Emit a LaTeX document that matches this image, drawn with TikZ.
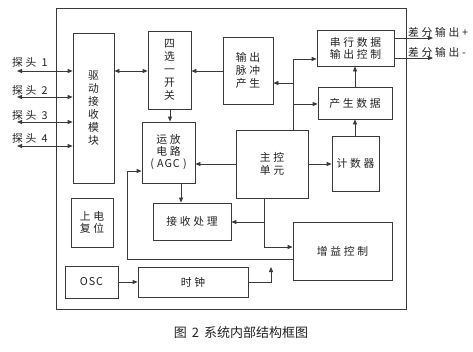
\documentclass[tikz,border=0pt]{standalone}
\usepackage{fontspec}
\setmainfont{Noto Sans CJK SC}
\newfontfamily\cjk{Noto Sans CJK SC}[LetterSpace=25]
\newfontfamily\cjkcap{Noto Sans CJK SC}
\newfontfamily\latn{Noto Sans CJK SC}[LetterSpace=8]
\usetikzlibrary{arrows.meta}
\definecolor{linec}{HTML}{3A3A3A}
\definecolor{textc}{HTML}{222222}
\newcommand\lbl{\cjk\fontsize{10.8}{13}\selectfont}
\tikzset{
  box/.style={draw=linec, line width=0.8pt, inner sep=0pt, align=center, font=\lbl, text=textc},
  conn/.style={draw=linec, line width=0.8pt},
  arr/.style={conn, -{Triangle[length=5pt,width=4pt]}},
  arrboth/.style={conn, {Triangle[length=5pt,width=4pt]}-{Triangle[length=5pt,width=4pt]}},
  plain/.style={inner sep=0pt, font=\lbl, text=textc},
}
\begin{document}
\begin{tikzpicture}[x=1pt,y=-1pt]
\useasboundingbox[fill=white] (0,0) rectangle (473,351);
% frame
\node[box, minimum width=350pt, minimum height=301pt] (frame) at (231,158.5) {};
% blocks
\node[box, minimum width=41pt, minimum height=150pt] (drive) at (93.5,108) {驱\\动\\接\\收\\模\\块};
\node[box, minimum width=43pt, minimum height=78pt] (sel) at (169.5,70) {四\\选\\一\\开\\关};
\node[box, minimum width=50pt, minimum height=67pt] (pulse) at (248,70.5) {输出\\脉冲\\产生};
\node[box, minimum width=77pt, minimum height=36pt, font=\cjk\fontsize{10.8}{12}\selectfont] (serial) at (355.5,48) {串行数据\\输出控制};
\node[box, minimum width=74pt, minimum height=32pt] (gen) at (355,103) {产生数据};
\node[box, minimum width=47pt, minimum height=55pt] (cnt) at (355.5,163.5) {计数器};
\node[box, minimum width=72pt, minimum height=68pt] (main) at (272,164) {主控\\单元};
\node[box, minimum width=53pt, minimum height=61pt, font=\cjk\fontsize{10.8}{12}\selectfont] (agc) at (168.5,152.5) {运放\\电路\\{\latn ( AGC )}};
\node[box, minimum width=78pt, minimum height=37pt] (recv) at (192,221.5) {接收处理};
\node[box, minimum width=99pt, minimum height=58pt] (gain) at (342.5,251) {增益控制};
\node[box, minimum width=42pt, minimum height=49pt, font=\cjk\fontsize{10.8}{12}\selectfont] (reset) at (92,222.5) {上电\\复位};
\node[box, minimum width=53pt, minimum height=32pt] (osc) at (91.5,282) {\latn OSC};
\node[box, minimum width=110pt, minimum height=30pt] (clk) at (193,282) {时钟};
% probe labels
\node[plain, anchor=west] (l1) at (12,62) {探头 1};
\node[plain, anchor=west] (l2) at (12,90) {探头 2};
\node[plain, anchor=west] (l3) at (12,115) {探头 3};
\node[plain, anchor=west] (l4) at (12,138) {探头 4};
\coordinate (p1) at (17,71);
\coordinate (p2) at (17,97);
\coordinate (p3) at (17,122);
\coordinate (p4) at (17,146);
\draw[arrboth] (p1) -- (drive.west |- p1);
\draw[arrboth] (p2) -- (drive.west |- p2);
\draw[arrboth] (p3) -- (drive.west |- p3);
\draw[arrboth] (p4) -- (drive.west |- p4);
% outputs
\node[plain, anchor=west] (op) at (408,32) {差分输出+};
\node[plain, anchor=west] (om) at (408,52) {差分输出-};
\coordinate (o1) at (433,38);
\coordinate (o2) at (433,58);
\draw[arr] (serial.east |- o1) -- (o1);
\draw[arr] (serial.east |- o2) -- (o2);
% connections
\draw[arrboth] (drive.east |- 0,71) -- (sel.west |- 0,71);
\draw[arr] (pulse.west |- 0,71) -- (sel.east |- 0,71);
\draw[arr] (sel.south -| 170,0) -- (agc.north -| 170,0);
\coordinate (j1) at (293,83);
\coordinate (j2) at (293,104);
\draw[arr] (main.north -| j1) |- (serial.west |- 0,59);
\draw[arr] (j1) -- (pulse.east |- j1);
\draw[arr] (j2) -- (gen.west |- j2);
\draw[arr] (gen.north -| 355,0) -- (serial.south -| 355,0);
\draw[arr] (cnt.north -| 355,0) -- (gen.south -| 355,0);
\draw[arr] (main.west) -- (agc.east |- main.west);
\draw[arr] (main.east) -- (cnt.west |- main.east);
\draw[arr] (agc.south -| 181,0) -- (recv.north -| 181,0);
\coordinate (j3) at (264,222);
\draw[arr] (main.south -| j3) |- (gain.west |- 0,247);
\draw[arr] (j3) -- (recv.east |- j3);
\draw[arr] (gain.west |- 0,259) -| (127,171) -- (agc.west |- 0,171);
\draw[arr] (osc.east) -- (clk.west |- osc.east);
\coordinate (ck) at (271,267);
\draw[arr] (clk.east) -| (ck);
% caption
\node[inner sep=0pt, font=\cjkcap\fontsize{13}{15}\selectfont, text=textc] (cap) at (241,333) {图\hspace{5pt}2\hspace{5pt}系统内部结构框图};
\end{tikzpicture}
\end{document}
